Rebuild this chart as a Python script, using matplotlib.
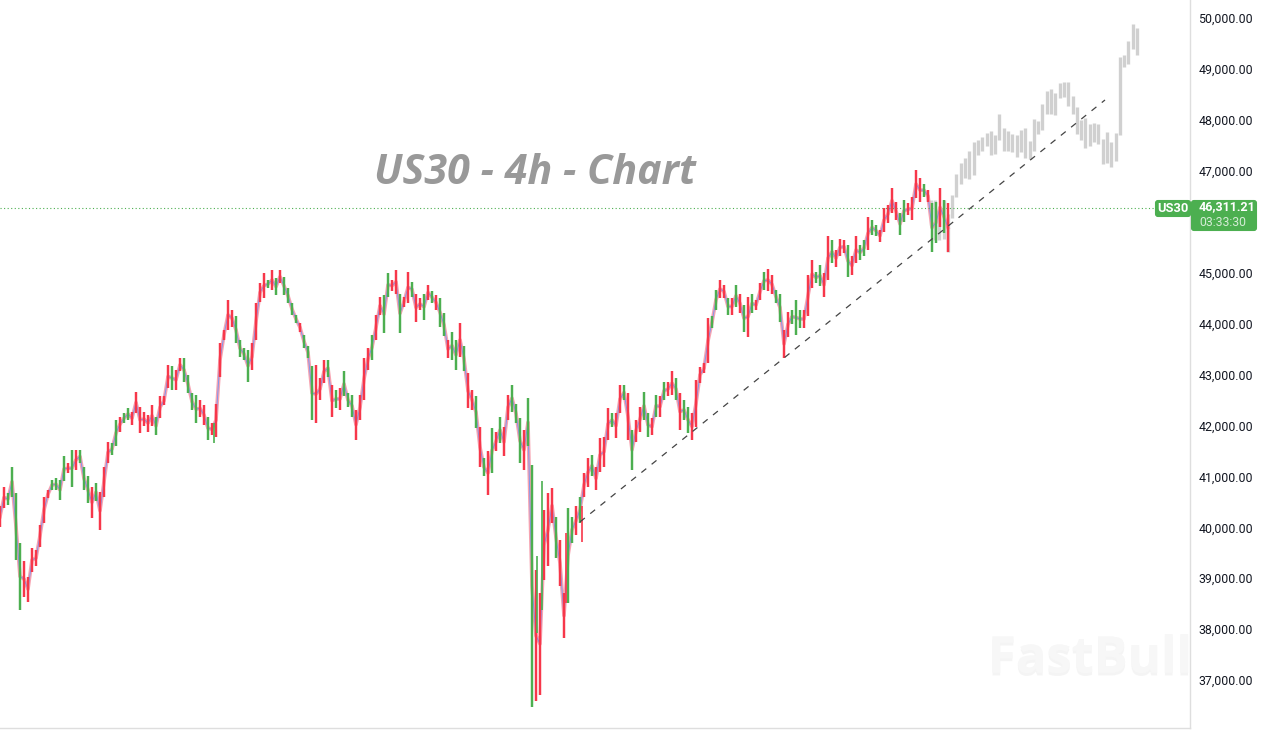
import matplotlib
matplotlib.use('Agg')
import matplotlib.pyplot as plt
import matplotlib.patheffects as pe
import matplotlib.transforms as mtrans
from matplotlib.patches import FancyBboxPatch

# 4h bars, left to right
bar_high = [
    40430, 40820, 40690, 41210, 40690, 39710, 39350, 39050, 39610, 39580, 40070, 40620, 40750, 40950, 40980, 40950,
    41410, 41280, 41540, 41540, 41540, 41210, 41020, 40820, 40890, 40720, 41210, 41700, 41670, 42130, 42190, 42260,
    42360, 42290, 42680, 42390, 42290, 42230, 42420, 42190, 42590, 42590, 43210, 43180, 43110, 43340, 43340, 43010,
    42650, 42620, 42520, 42420, 42190, 42060, 42450, 43630, 43900, 44480, 44290, 44160, 43700, 43540, 43500, 43630,
    44420, 44810, 45010, 44880, 45070, 44910, 45070, 44940, 44710, 44420, 44190, 44030,
    43800, 43570, 43180, 43210, 42950, 43310, 43310, 42820, 42720, 42750, 43080, 42650, 42620, 42330, 42620, 43340,
    43540, 43800, 44190, 44550, 44580, 45010, 44880, 45070, 44610, 44550, 45040, 44840, 44610, 44520, 44610, 44780,
    44650, 44580, 44520, 44220, 43700, 43860, 43700, 44030, 43570, 43040, 42720, 42590, 41980, 41380, 41510, 41970,
    41900, 42190, 41980, 42620, 42820, 42450, 42160, 41930, 42550,
    41245, 39185, 38730, 40360, 40690, 40790, 40230, 39770, 38730, 40390, 40230, 40430, 40620,
    41080, 41380, 41440, 41210, 41770, 41800, 42360, 42260, 42260, 42815, 42815, 42650, 41930, 42130, 42390, 42680,
    42260, 42160, 42620, 42590, 42880, 42880, 43080, 42950, 42650, 42520, 42390, 42260, 42910, 43175, 43240, 44120,
    44160, 44680, 44880, 44780, 44520, 44520, 44780, 44610, 44390, 44550, 44610, 44480, 44810, 45040, 45100, 44970,
    44680, 44610,
    43900, 44250, 44290, 44480, 44290, 44290, 44970, 45270, 45040, 45170, 45010, 45730, 45660, 45470, 45690, 45660,
    45560, 45340, 45730, 45560, 45660, 46120, 46050, 45960, 45860, 46280, 46350, 46680, 46410, 46190, 46450, 46380,
    46510, 47040, 46870, 46770, 46640, 46380, 46410, 46680, 46450, 46380,
]
bar_low = [
    40030, 40390, 40460, 40620, 39380, 38400, 38660, 38560, 39150, 39250, 39640, 40100, 40590, 40750, 40750, 40560,
    40920, 41080, 40820, 41150, 41280, 40750, 40490, 40200, 40530, 39970, 40620, 41280, 41440, 41610, 41900, 42060,
    42130, 42030, 42260, 41870, 42000, 41900, 42000, 41830, 42160, 42420, 42750, 42720, 42720, 43080, 42880, 42650,
    42330, 42060, 42190, 42030, 41740, 41830, 41800, 42980, 43700, 43900, 43960, 43630, 43370, 43310, 42880, 43110,
    43700, 44450, 44520, 44710, 44680, 44580, 44810, 44580, 44420, 44190, 44030, 43860,
    43540, 43340, 42130, 42060, 42520, 42850, 42980, 42190, 42360, 42330, 42590, 42390, 42190, 41740, 42130, 42520,
    43110, 43310, 43700, 44190, 43830, 44550, 44650, 44610, 43830, 44350, 44420, 44550, 44060, 44290, 44090, 44480,
    44420, 44290, 43960, 43770, 43340, 43310, 43110, 43370, 43080, 42360, 42330, 41970, 41210, 41020, 40660, 41080,
    41510, 41670, 41410, 42130, 42290, 42060, 41280, 41150, 41610,
    36495, 36600, 36730, 38990, 39250, 40100, 39410, 38860, 37840, 38530, 39710, 39870, 40100,
    40620, 40820, 41020, 40750, 41110, 41210, 41740, 41990, 41770, 42260, 42520, 41740, 41150, 41700, 41900, 42130,
    41800, 41830, 42190, 42190, 42520, 42590, 42620, 42520, 41930, 42130, 41870, 41740, 41990, 42850, 43040, 43240,
    43930, 44290, 44520, 44520, 44190, 44190, 44350, 44220, 43860, 43760, 44220, 44290, 44480, 44680, 44650, 44610,
    44420, 44060,
    43340, 43760, 44020, 43800, 43930, 43930, 44160, 44710, 44810, 44750, 44550, 44880, 45200, 45140, 45340, 45400,
    44940, 44980, 45200, 45270, 45340, 45460, 45760, 45730, 45630, 45820, 45990, 46190, 46050, 45760, 46020, 46150,
    46050, 46480, 46410, 46510, 46410, 45430, 45600, 45920, 45790, 45430,
]
# r = red bar, g = green bar
bar_dir = (
    'rrggggrrrrrrrggggrgrgggrgrrrggrggrrrrrrgrrrgrrggggrrgrrrrrrggggrrrrgrgrggggr'
    'gggrrrgrgrgggrrrrgrrggrrgrrgrrgrgrggrggrgrrgrgrgrgrrgggrg'
    'grrrrrgrrggrg'
    'rrgrrrrgrrgrgrrggrgrgrrgrggrrrrrggrrgrgrgrgrrgrrgg'
    'rrgggrrrggrrgrrrgrrggrggrrrrrggrrrrgrggrgr'
)

# long wicks that sit between the regular bars
wick_pos = [134.25, 135.4, 141.5, 145.5, 53.6]
wick_high = [39450, 40920, 39900, 40430, 42060]
wick_low = [37940, 38400, 38530, 39740, 41670]
wick_dir = ['g', 'g', 'r', 'r', 'g']

# grey projected bars
proj_high = [
    46450, 46450, 46180, 46450, 46180, 46540, 46960, 47170, 47270, 47410, 47580, 47620, 47690, 47760, 47800, 47720, 48130,
    47850, 47800, 47740, 47730, 47820, 47860, 47610, 48030, 48000, 48340, 48590, 48620, 48540, 48740, 48760,
    48760, 48490, 48270, 48020, 48050, 47940, 47950, 47940, 47640, 47780, 47580, 47760, 49250, 49290, 49570, 49900, 49820,
]
proj_low = [
    45960, 45660, 45660, 45690, 45430, 46090, 46510, 46770, 46870, 46860, 46940, 47330, 47415, 47510, 47320, 47350, 47630,
    47400, 47400, 47380, 47300, 47380, 47280, 47250, 47415, 47740, 47820, 48130, 48130, 48120, 48440, 48460,
    48300, 48130, 47740, 47630, 47470, 47510, 47590, 47550, 47160, 47170, 47100, 47220, 47720, 49060, 49120, 49420, 49290,
]

trend_pos = [145, 276.25]
trend_price = [40126, 48410]

last_price = 46311.21
# 46,000.00 is covered by the price tag in the original, so it is left out
y_ticks = [37000, 38000, 39000, 40000, 41000, 42000, 43000, 44000, 45000, 47000, 48000, 49000, 50000]

RED = '#f7374a'
GREEN = '#4caf50'
BORDER = '#dedede'

assert len(bar_high) == len(bar_low) == len(bar_dir)
assert len(proj_high) == len(proj_low)

fig = plt.figure(figsize=(12.62, 7.30), dpi=100)
ax = fig.add_axes([0, 2 / 730, 1190 / 1262, 728 / 730])
ax.set_xlim(0, 1190 / 4)
ax.set_ylim(36079, 50373)

# grey projection first, the real bars go over it
proj_pos = [232.67 + k * 1.075 for k in range(len(proj_high))]
ax.vlines(proj_pos, proj_low, proj_high, colors='#d0d0d0', linewidth=2.4, zorder=1)

# pale ribbon through the bar middles, ties the bars together
bar_pos = list(range(len(bar_high)))
bar_mid = [(h + l) / 2 for h, l in zip(bar_high, bar_low)]
ax.plot(bar_pos, bar_mid, color='#f7a3b1', linewidth=2.6, zorder=2, solid_joinstyle='round')
ax.plot(bar_pos, bar_mid, color='#7f97ee', linewidth=0.7, zorder=2, solid_joinstyle='round')

bar_colors = [RED if d == 'r' else GREEN for d in bar_dir]
ax.vlines(bar_pos, bar_low, bar_high, colors=bar_colors, linewidth=1.75, zorder=3)
ax.vlines(wick_pos, wick_low, wick_high, colors=[RED if d == 'r' else GREEN for d in wick_dir], linewidth=1.2, zorder=3)

ax.plot(trend_pos, trend_price, color='#444444', linewidth=0.9, linestyle=(0, (5, 5.5)), zorder=4)

# the line sits a pixel under its value in the original
down_1px = ax.transData + mtrans.ScaledTranslation(0, -1 / 100, fig.dpi_scale_trans)
ax.plot([0, 1190 / 4], [last_price, last_price], color=GREEN, linewidth=0.8, linestyle=(0, (1, 2.2)),
        transform=down_1px, zorder=2)

ax.text(1192 / 4, 37420, 'FastBull', fontsize=36.5, fontweight='bold', family='Open Sans', color='#f7f7f7',
        ha='right', va='center', clip_on=True, zorder=0,
        path_effects=[pe.withSimplePatchShadow(offset=(0, -2), shadow_rgbFace='#eeeeee', alpha=0.6), pe.Normal()])

ax.yaxis.tick_right()
ax.set_yticks(y_ticks)
ax.set_yticklabels([f'{t:,.2f}' for t in y_ticks], fontsize=8.9, family='Roboto', color='#131722')
ax.tick_params(axis='y', length=0, pad=6)
ax.set_xticks([])
up_1px = mtrans.ScaledTranslation(0, 1 / 100, fig.dpi_scale_trans)
for label in ax.get_yticklabels():
    label.set_transform(label.get_transform() + up_1px)
for side in ['top', 'left']:
    ax.spines[side].set_visible(False)
ax.spines['right'].set_color(BORDER)
ax.spines['bottom'].set_color(BORDER)
ax.spines['right'].set_linewidth(1)
ax.spines['bottom'].set_linewidth(1)

# overlay in picture pixels for the title and the price tags
over = fig.add_axes([0, 0, 1, 1], facecolor='none')
over.set_xlim(0, 1262)
over.set_ylim(730, 0)
over.axis('off')

over.text(374, 174, 'US30 - 4h - Chart', fontsize=29.7, fontweight='bold', style='italic', family='Open Sans',
          color='#999999', ha='left', va='center')

over.add_patch(FancyBboxPatch((1156, 201), 34, 15, boxstyle='round,pad=0,rounding_size=2', linewidth=1.5,
                              edgecolor=GREEN, facecolor=GREEN))
over.text(1172.5, 209, 'US30', fontsize=9.3, fontweight='bold', family='Roboto', color='white', ha='center', va='center')
over.add_patch(FancyBboxPatch((1192, 201), 64, 29, boxstyle='round,pad=0,rounding_size=2', linewidth=1.5,
                              edgecolor=GREEN, facecolor=GREEN))
over.text(1199, 207, f'{last_price:,.2f}', fontsize=9, fontweight='bold', family='Roboto', color='white',
          ha='left', va='center')
over.text(1199, 222, '03:33:30', fontsize=8.8, family='Roboto', color='#d5ecd6', ha='left', va='center')

fig.savefig('out.png', dpi=100)
